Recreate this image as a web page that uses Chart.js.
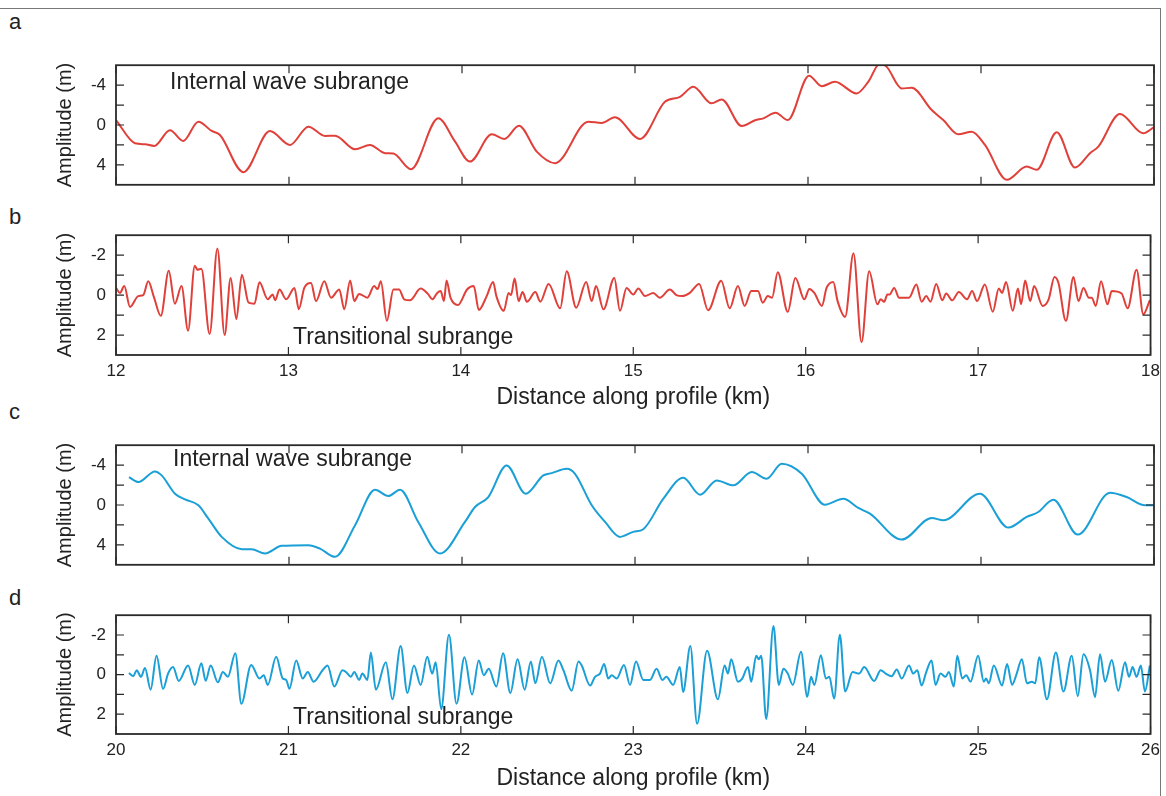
<!DOCTYPE html>
<html>
<head>
<meta charset="utf-8">
<script src="https://cdn.jsdelivr.net/npm/chart.js@4.4.0/dist/chart.umd.min.js"></script>
<style>
  html, body { margin:0; padding:0; background:#fff; }
  body { width:1166px; height:796px; position:relative; overflow:hidden;
         font-family:"Liberation Sans", Arial, sans-serif; color:#222; }
  canvas { position:absolute; left:0; }
  .sheet { position:absolute; left:0; top:8px; width:1160px; height:800px;
           border-top:1px solid #777; border-right:1px solid #777; }
  .note { position:absolute; font-size:23px; line-height:1; white-space:nowrap; color:#222; }
  .tag { position:absolute; left:9px; font-size:22px; line-height:1; color:#222; }
</style>
</head>
<body>
<div class="sheet"></div>
<div class="tag" style="top:11px">a</div>
<div class="tag" style="top:206px">b</div>
<div class="tag" style="top:401px">c</div>
<div class="tag" style="top:587px">d</div>

<canvas id="pa" width="1166" height="160" style="top:45px"></canvas>
<canvas id="pb" width="1166" height="205" style="top:215px"></canvas>
<canvas id="pc" width="1166" height="160" style="top:425px"></canvas>
<canvas id="pd" width="1166" height="201" style="top:595px"></canvas>

<div class="note" style="left:170px;top:70px">Internal wave subrange</div>
<div class="note" style="left:293px;top:325px">Transitional subrange</div>
<div class="note" style="left:173px;top:447px">Internal wave subrange</div>
<div class="note" style="left:293px;top:705px">Transitional subrange</div>

<script>
// ---- panel a : internal wave subrange, 12-18 km (m, positive down)
const distA = [12.000,12.110,12.168,12.221,12.312,12.389,12.476,12.553,12.601,12.736,12.890,13.006,13.112,13.208,13.266,13.382,13.468,13.555,13.603,13.705,13.863,13.960,14.046,14.172,14.245,14.329,14.432,14.538,14.730,14.807,14.884,15.029,15.173,15.260,15.337,15.443,15.501,15.617,15.694,15.742,15.813,15.883,16.006,16.079,16.156,16.281,16.348,16.416,16.455,16.542,16.599,16.715,16.782,16.869,16.946,17.023,17.149,17.264,17.322,17.438,17.543,17.630,17.678,17.803,17.938,17.996];
const ampA  = [-0.5,1.83,1.93,2.1,0.53,1.6,-0.33,0.6,1.0,4.73,0.6,2.0,0.17,1.1,1.07,2.43,2.0,2.83,2.87,4.43,-0.67,1.67,3.67,0.93,1.4,0.07,2.67,3.83,-0.33,-0.2,-0.77,1.4,-2.33,-2.83,-3.83,-2.17,-2.57,0.1,-0.47,-0.67,-1.23,-0.5,-4.95,-3.9,-4.33,-3.17,-4.33,-6.17,-5.83,-3.67,-3.73,-1.5,-0.5,0.93,0.67,2.0,5.5,4.17,4.5,0.73,4.27,2.83,2.17,-1.1,0.83,0.27];

// ---- panel b : transitional subrange, 12-18 km
const distB = [12.000,12.023,12.048,12.081,12.129,12.158,12.187,12.221,12.260,12.306,12.341,12.380,12.418,12.457,12.472,12.495,12.543,12.588,12.630,12.665,12.698,12.730,12.769,12.803,12.832,12.880,12.909,12.923,12.948,12.987,
  13.035,13.060,13.092,13.131,13.160,13.208,13.247,13.295,13.324,13.358,13.382,13.410,13.458,13.497,13.517,13.536,13.571,13.609,13.642,13.671,13.705,13.767,13.809,13.834,13.863,13.883,13.902,13.917,13.940,13.983,
  14.036,14.075,14.104,14.150,14.187,14.206,14.249,14.277,14.291,14.312,14.335,14.358,14.383,14.432,14.461,14.509,14.576,14.614,14.669,14.727,14.759,14.784,14.827,14.890,14.923,14.961,
  15.000,15.029,15.068,15.116,15.154,15.212,15.250,15.283,15.328,15.382,15.434,15.510,15.559,15.607,15.646,15.684,15.723,15.751,15.780,15.805,15.838,15.896,15.940,15.992,
  16.021,16.050,16.094,16.121,16.160,16.185,16.229,16.277,16.324,16.368,16.416,16.435,16.455,16.474,16.487,16.513,16.542,16.599,16.642,16.672,16.699,16.724,16.757,16.792,16.815,16.850,16.888,16.936,16.965,16.994,
  17.039,17.085,17.120,17.139,17.162,17.201,17.231,17.249,17.273,17.302,17.325,17.374,17.409,17.443,17.466,17.509,17.553,17.582,17.611,17.643,17.659,17.682,17.713,17.750,17.775,17.832,17.867,17.919,17.958,17.996];
const ampB  = [-0.36,-0.11,-0.45,0.59,0.05,0.00,-0.69,0.13,1.04,-1.22,0.43,-0.45,1.78,-1.47,-1.27,-1.32,1.95,-2.34,2.00,-0.86,1.20,-1.02,0.38,0.43,-0.64,0.21,-0.03,0.26,-0.28,0.21,
  -0.36,0.71,-0.36,-0.61,0.30,-0.69,0.13,-0.28,0.71,-0.73,0.30,-0.06,0.13,-0.45,-0.30,-0.69,1.29,-0.28,-0.28,0.21,0.26,-0.33,-0.06,0.21,-0.11,-0.20,0.30,-0.73,0.13,0.50,
  -0.28,-0.45,0.74,0.05,-0.66,0.05,0.79,-0.11,0.00,-0.83,0.30,-0.15,0.33,-0.15,0.33,-0.56,0.66,-1.19,0.63,-0.66,0.30,-0.45,0.71,-0.86,0.79,-0.36,
  -0.03,-0.33,0.05,-0.11,0.13,-0.28,0.00,0.05,-0.11,-0.56,0.76,-0.72,0.66,-0.45,0.54,-0.20,-0.20,0.38,0.05,0.13,-1.15,0.84,-0.86,0.21,
  -0.31,-0.11,0.54,-0.36,-0.66,0.30,1.09,-2.09,2.36,-1.19,0.46,0.21,0.33,-0.03,-0.03,-0.36,0.13,0.13,-0.53,0.33,0.05,0.33,-0.56,0.26,-0.08,0.26,-0.16,0.21,-0.20,0.30,
  -0.53,0.83,-0.33,-0.11,-0.66,0.79,-0.33,0.46,-0.73,0.30,-0.45,0.54,0.21,-0.91,-0.61,1.29,-0.91,0.30,-0.36,0.13,0.13,0.54,-0.69,0.46,-0.20,-0.08,0.66,-1.27,0.96,0.25];

// ---- panel c : internal wave subrange, 20-26 km
const distC = [20.075,20.129,20.225,20.264,20.341,20.399,20.476,20.534,20.611,20.727,20.784,20.861,20.958,21.112,21.179,21.266,21.382,21.497,21.574,21.642,21.747,21.873,22.017,22.075,22.152,22.258,22.368,22.470,22.518,22.605,22.653,22.750,22.827,22.913,22.990,23.048,23.164,23.279,23.376,23.472,23.568,23.675,23.761,23.848,23.964,24.098,24.204,24.291,24.358,24.542,24.715,24.782,24.994,25.158,25.264,25.331,25.418,25.559,25.746,25.842,25.948,25.996];
const ampC  = [-2.80,-2.30,-3.37,-2.97,-1.13,-0.57,0.03,1.37,3.20,4.43,4.43,4.87,4.10,4.03,4.37,5.20,2.03,-1.53,-0.90,-1.53,1.70,4.87,1.70,0.20,-0.80,-3.97,-1.13,-2.97,-3.20,-3.63,-3.13,0.03,1.70,3.20,2.70,2.43,-0.63,-2.73,-1.03,-2.47,-1.97,-3.30,-2.63,-4.13,-3.13,-0.03,-0.63,0.30,0.87,3.47,1.30,1.53,-1.13,2.27,1.20,0.70,-0.53,2.97,-1.23,-0.80,0.03,0.03];

// ---- panel d : transitional subrange, 20-26 km
const distD = [20.075,20.100,20.120,20.145,20.168,20.201,20.235,20.273,20.302,20.331,20.364,20.418,20.457,20.495,20.520,20.549,20.591,20.620,20.649,20.692,20.727,20.784,20.832,20.857,20.880,20.929,20.967,20.987,
  21.006,21.045,21.083,21.112,21.146,21.198,21.227,21.266,21.314,21.334,21.362,21.382,21.410,21.429,21.458,21.478,21.507,21.565,21.603,21.651,21.690,21.728,21.767,21.805,21.834,21.854,21.886,21.931,21.975,
  22.021,22.065,22.104,22.133,22.162,22.206,22.245,22.287,22.329,22.370,22.406,22.432,22.470,22.518,22.566,22.595,22.643,22.682,22.701,22.750,22.778,22.807,22.831,22.855,22.875,22.904,22.946,22.981,
  23.016,23.058,23.097,23.135,23.169,23.192,23.231,23.270,23.289,23.331,23.370,23.428,23.491,23.530,23.549,23.568,23.607,23.632,23.665,23.684,23.713,23.728,23.742,23.771,23.813,23.844,23.871,23.896,23.925,23.973,
  24.009,24.031,24.050,24.088,24.117,24.137,24.165,24.198,24.229,24.272,24.310,24.339,24.397,24.435,24.464,24.499,24.528,24.557,24.599,24.624,24.647,24.672,24.699,24.730,24.753,24.782,24.811,24.830,24.859,24.879,24.908,24.931,24.956,
  25.000,25.033,25.046,25.062,25.091,25.139,25.168,25.197,25.221,25.254,25.283,25.312,25.331,25.354,25.399,25.451,25.495,25.543,25.578,25.611,25.649,25.678,25.707,25.736,25.775,25.813,25.852,25.875,25.896,25.919,25.944,25.967,25.996];
const ampD  = [-0.08,0.08,-0.22,0.11,-0.33,0.76,-0.95,0.72,-0.05,-0.38,0.32,-0.46,0.52,-0.57,0.31,-0.46,0.39,-0.13,0.11,-1.08,1.47,-0.49,0.20,0.03,0.52,-0.90,0.20,0.27,
  0.72,-0.71,0.20,-0.13,0.36,-0.22,-0.46,0.60,-0.22,-0.13,0.11,-0.13,0.27,-0.05,0.27,-1.11,0.76,-0.62,1.25,-1.44,0.93,-0.46,0.52,-0.90,-0.05,-0.62,1.75,-2.01,1.47,
  -0.87,1.01,-0.71,0.03,-0.29,0.60,-1.08,0.93,-0.78,0.76,-0.66,0.44,-0.90,0.44,-0.71,-0.22,0.81,-0.66,-0.46,0.55,0.11,-0.05,-0.54,0.20,0.03,0.20,-0.49,0.52,
  -0.66,0.27,0.27,-0.29,0.27,0.11,0.52,-0.38,0.88,-1.44,2.48,-1.20,1.25,-0.46,-0.05,-0.78,0.36,0.20,-0.38,0.36,-0.95,-0.78,-0.95,2.24,-2.45,0.52,-0.29,-0.05,0.52,-1.15,
  1.12,0.11,0.52,-0.98,0.20,0.11,1.21,-2.01,0.85,-0.13,-0.05,-0.38,0.32,-0.22,-0.05,0.08,-0.26,0.20,-0.46,-0.05,-0.22,0.55,-0.13,-0.71,0.52,-0.05,0.11,-0.13,0.60,-0.95,0.20,0.03,0.36,
  -0.95,0.36,0.20,0.44,-0.46,0.55,-0.54,0.52,0.03,-0.78,0.44,0.36,0.44,-0.87,1.25,-1.11,0.85,-0.95,1.09,-1.03,-0.22,1.14,-1.03,0.36,-0.74,0.81,-0.62,0.11,-0.38,0.11,-0.46,0.85,-0.46];

// axes
const kmTicksTop = [12, 13, 14, 15, 16, 17, 18];
const kmTicksBottom = [20, 21, 22, 23, 24, 25, 26];
const ampTicksIW = [-4, -2, 0, 2, 4];
const ampLabelsIW = [-4, 0, 4];
const ampTicksTR = [-2, -1, 0, 1, 2];
const ampLabelsTR = [-2, 0, 2];

const RED = '#e0403a';
const BLUE = '#1a9fd6';
const FONT = '"Liberation Sans", Arial, sans-serif';
const INK = '#222';

// box round the plot with inward ticks on all four sides
const frame = {
  id: 'frame',
  afterDatasetsDraw(chart) {
    const {ctx, chartArea: a, scales: {x, y}} = chart;
    ctx.save();
    ctx.strokeStyle = '#2a2a2a';
    ctx.lineWidth = 1.2;
    ctx.beginPath();
    x.ticks.forEach(t => {
      const px = x.getPixelForValue(t.value);
      ctx.moveTo(px, a.top); ctx.lineTo(px, a.top + 8);
      ctx.moveTo(px, a.bottom); ctx.lineTo(px, a.bottom - 8);
    });
    y.ticks.forEach(t => {
      const py = y.getPixelForValue(t.value);
      ctx.moveTo(a.left, py); ctx.lineTo(a.left + 8, py);
      ctx.moveTo(a.right, py); ctx.lineTo(a.right - 8, py);
    });
    ctx.stroke();
    ctx.lineWidth = 1.8;
    ctx.strokeRect(a.left, a.top, a.right - a.left, a.bottom - a.top);
    ctx.restore();
  }
};

function makePanel(id, dist, amp, color, o) {
  const pts = dist.map((d, i) => ({x: d, y: amp[i]}));
  return new Chart(document.getElementById(id), {
    type: 'line',
    data: {datasets: [{data: pts, borderColor: color, borderWidth: 2, pointRadius: 0,
                       cubicInterpolationMode: 'monotone', fill: false}]},
    options: {
      responsive: false, animation: false, events: [],
      layout: {padding: {left: 0, right: 12, top: o.padTop, bottom: 0}},
      plugins: {legend: {display: false}, tooltip: {enabled: false}},
      scales: {
        x: {
          type: 'linear', min: o.kmTicks[0], max: o.kmTicks[o.kmTicks.length - 1],
          grid: {display: false, drawTicks: false}, border: {display: false},
          afterBuildTicks: s => { s.ticks = o.kmTicks.map(v => ({value: v})); },
          afterFit: s => { s.height = o.axisH; },
          ticks: {display: o.showX, padding: 6, color: INK, autoSkip: false, maxRotation: 0,
                  font: {family: FONT, size: 17}, callback: v => String(v)},
          title: {display: o.showX, text: 'Distance along profile (km)', color: INK,
                  font: {family: FONT, size: 23}, padding: {top: 0, bottom: o.titlePad || 0}}
        },
        y: {
          type: 'linear', min: -o.ampMax, max: o.ampMax, reverse: true,
          grid: {display: false, drawTicks: false}, border: {display: false},
          afterBuildTicks: s => { s.ticks = o.ampTicks.map(v => ({value: v})); },
          afterFit: s => { s.width = 116; },
          ticks: {padding: 10, color: INK, font: {family: FONT, size: 17},
                  callback: v => o.ampLabels.includes(v) ? String(v) : ''},
          title: {display: true, text: 'Amplitude (m)', color: INK,
                  font: {family: FONT, size: 20}, padding: {top: 53, bottom: 0}}
        }
      }
    },
    plugins: [frame]
  });
}

makePanel('pa', distA, ampA, RED,  {padTop: 20, axisH: 10, showX: false, kmTicks: kmTicksTop,
  ampMax: 6, ampTicks: ampTicksIW, ampLabels: ampLabelsIW});
makePanel('pb', distB, ampB, RED,  {padTop: 18, axisH: 65, showX: true, titlePad: 9, kmTicks: kmTicksTop,
  ampMax: 3, ampTicks: ampTicksTR, ampLabels: ampLabelsTR});
makePanel('pc', distC, ampC, BLUE, {padTop: 18, axisH: 10, showX: false, kmTicks: kmTicksBottom,
  ampMax: 6, ampTicks: ampTicksIW, ampLabels: ampLabelsIW});
makePanel('pd', distD, ampD, BLUE, {padTop: 17, axisH: 62, showX: true, titlePad: 4, kmTicks: kmTicksBottom,
  ampMax: 3, ampTicks: ampTicksTR, ampLabels: ampLabelsTR});
</script>
</body>
</html>
